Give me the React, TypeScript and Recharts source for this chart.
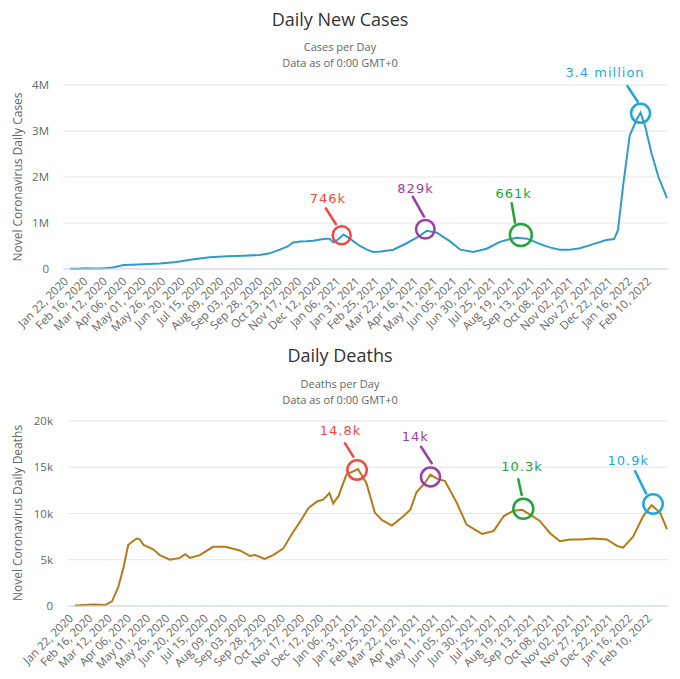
import React from 'react';
import { LineChart, Line, XAxis, YAxis, CartesianGrid, ReferenceDot, ReferenceLine } from 'recharts';

const tickLabels = [
  'Jan 22, 2020', 'Feb 16, 2020', 'Mar 12, 2020', 'Apr 06, 2020', 'May 01, 2020', 'May 26, 2020',
  'Jun 20, 2020', 'Jul 15, 2020', 'Aug 09, 2020', 'Sep 03, 2020', 'Sep 28, 2020', 'Oct 23, 2020',
  'Nov 17, 2020', 'Dec 12, 2020', 'Jan 06, 2021', 'Jan 31, 2021', 'Feb 25, 2021', 'Mar 22, 2021',
  'Apr 16, 2021', 'May 11, 2021', 'Jun 05, 2021', 'Jun 30, 2021', 'Jul 25, 2021', 'Aug 19, 2021',
  'Sep 13, 2021', 'Oct 08, 2021', 'Nov 02, 2021', 'Nov 27, 2021', 'Dec 22, 2021', 'Jan 16, 2022',
  'Feb 10, 2022',
];
const tickDays = tickLabels.map((_, i) => i * 25);
const lastDay = 768;

// day offset from Jan 22, 2020 ; daily new cases (thousands)
const caseDays = [0, 10, 20, 30, 40, 47, 55, 62, 69, 80, 94, 116, 137, 159, 180, 202, 223, 244, 257, 270, 280, 287, 296, 304, 313, 322, 330, 334, 339, 345, 352, 360, 373, 382, 390, 400, 416, 433, 446, 459, 472, 489, 502, 519, 536, 553, 564, 575, 588, 605, 617, 630, 643, 656, 673, 690, 700, 705, 712, 720, 729, 734, 740, 748, 757, 768];
const caseValues = [5, 5, 15, 12, 10, 20, 35, 60, 85, 95, 105, 120, 150, 210, 255, 275, 290, 305, 340, 420, 490, 575, 600, 605, 615, 640, 660, 655, 575, 645, 750, 660, 500, 420, 370, 380, 420, 560, 680, 829, 790, 600, 420, 370, 440, 590, 640, 680, 660, 540, 470, 420, 420, 450, 540, 630, 650, 850, 1870, 2900, 3250, 3400, 3100, 2520, 2000, 1540];

// day offset from Jan 22, 2020 ; daily deaths (thousands)
const deathDays = [0, 24, 39, 48, 56, 63, 69, 75, 80, 84, 89, 102, 110, 123, 136, 143, 149, 162, 179, 195, 214, 227, 234, 246, 257, 270, 283, 292, 303, 314, 322, 330, 335, 342, 352, 367, 378, 389, 398, 411, 426, 435, 443, 454, 461, 469, 480, 495, 508, 528, 543, 556, 569, 580, 590, 603, 616, 629, 642, 655, 672, 690, 703, 711, 724, 737, 748, 759, 768];
const deathValues = [0.05, 0.15, 0.1, 0.5, 2.0, 4.2, 6.6, 7.0, 7.3, 7.2, 6.6, 6.1, 5.5, 5.0, 5.2, 5.6, 5.2, 5.5, 6.4, 6.4, 6.0, 5.4, 5.5, 5.1, 5.5, 6.2, 8.0, 9.1, 10.6, 11.3, 11.5, 12.2, 11.1, 11.9, 14.2, 14.8, 13.3, 10.1, 9.3, 8.7, 9.7, 10.4, 12.3, 13.3, 14.2, 13.8, 13.5, 11.2, 8.8, 7.8, 8.1, 9.7, 10.3, 10.4, 9.9, 9.2, 7.9, 7.0, 7.2, 7.2, 7.3, 7.2, 6.5, 6.3, 7.5, 9.7, 10.9, 10.1, 8.3];

const caseTicks = [0, 1000, 2000, 3000, 4000];
const deathTicks = [0, 5, 10, 15, 20];

const RED = '#ee4a42';
const PURPLE = '#9a3ea6';
const GREEN = '#22a43a';
const BLUE = '#1ea8df';

// annotations in data coordinates: [day, value]
const caseNotes = [
  { label: '746k', color: RED, text: [331.7, 1537], from: [329, 1320], to: [342.2, 972], circle: [349.5, 735], r: 9 },
  { label: '829k', color: PURPLE, text: [444.5, 1746], from: [440.9, 1572], to: [455.4, 1137], circle: [457.1, 865], r: 9.3 },
  { label: '661k', color: GREEN, text: [570.8, 1646], from: [568.2, 1428], to: [572.5, 1007], circle: [580, 739], r: 11 },
  { label: '3.4 million', color: BLUE, text: [688.3, 4272], from: [717, 3978], to: [730.4, 3637], circle: [734, 3385], r: 9.5 },
];
const deathNotes = [
  { label: '14.8k', color: RED, text: [344.4, 19.03], from: [350.3, 17.59], to: [361.1, 16.14], circle: [365.9, 14.7], r: 9.7 },
  { label: '14k', color: PURPLE, text: [441.4, 18.3], from: [448.9, 17.22], to: [462.8, 15.43], circle: [461.2, 13.95], r: 9.5 },
  { label: '10.3k', color: GREEN, text: [579.9, 15.1], from: [575.1, 13.7], to: [579.5, 12.0], circle: [581.6, 10.51], r: 10 },
  { label: '10.9k', color: BLUE, text: [717.8, 15.75], from: [726.5, 14.59], to: [740.8, 12.18], circle: [749.9, 11.03], r: 9.7 },
];

const caseData = caseDays.map((d, i) => ({ day: d, cases: caseValues[i] }));
const deathData = deathDays.map((d, i) => ({ day: d, deaths: deathValues[i] }));

const FONT = '"Open Sans", "DejaVu Sans", sans-serif';
const HAND = '"DejaVu Sans", sans-serif';

const DateTick = (props: any) => {
  const { x, y, payload } = props;
  const idx = tickDays.indexOf(payload.value);
  const label = idx >= 0 ? tickLabels[idx] : '';
  const ax = x - 1;
  const ay = y + 5;
  return (
    <text x={ax} y={ay} transform={`rotate(-45, ${ax}, ${ay})`} textAnchor="end" fontSize={11.5} fill="#666" fontFamily={FONT}>
      {label}
    </text>
  );
};

const renderNotes = (notes: any[]) =>
  notes.flatMap((n, i) => [
    <ReferenceLine
      key={`l${i}`}
      segment={[{ x: n.from[0], y: n.from[1] }, { x: n.to[0], y: n.to[1] }]}
      stroke={n.color}
      strokeWidth={2.5}
      strokeLinecap="round"
      ifOverflow="visible"
    />,
    <ReferenceDot
      key={`c${i}`}
      x={n.circle[0]}
      y={n.circle[1]}
      r={n.r}
      fill="none"
      stroke={n.color}
      strokeWidth={2.5}
      ifOverflow="visible"
    />,
    <ReferenceDot
      key={`t${i}`}
      x={n.text[0]}
      y={n.text[1]}
      r={0}
      fill="none"
      stroke="none"
      ifOverflow="visible"
      label={{ value: n.label, position: 'center', fill: n.color, fontSize: 13, fontFamily: HAND, letterSpacing: 1 }}
    />,
  ]);

export default function App() {
  return (
    <div style={{ position: 'absolute', left: 0, top: 0, width: 680, height: 679, background: '#fff', overflow: 'hidden' }}>
      <div style={{ position: 'absolute', left: 0, top: 0 }}>
        <LineChart width={680} height={340} data={caseData} margin={{ top: 85, right: 12, bottom: 0, left: 0 }}>
          <CartesianGrid vertical={false} stroke="#e6e6e6" />
          <XAxis
            dataKey="day"
            type="number"
            domain={[0, lastDay]}
            ticks={tickDays}
            interval={0}
            padding={{ left: 7, right: 1 }}
            height={71}
            tickLine={false}
            axisLine={{ stroke: '#ccd6eb' }}
            tick={(p: any) => <DateTick {...p} />}
          />
          <YAxis
            type="number"
            domain={[0, 4000]}
            ticks={caseTicks}
            width={63}
            tickLine={false}
            axisLine={false}
            tickMargin={8}
            tick={{ fontSize: 11.5, fill: '#666', fontFamily: FONT }}
            tickFormatter={(v: number) => (v === 0 ? '0' : `${v / 1000}M`)}
          />
          <Line type="linear" dataKey="cases" stroke="#2f9cc8" strokeWidth={2} dot={false} isAnimationActive={false} />
          {renderNotes(caseNotes)}
        </LineChart>
      </div>
      <div style={{ position: 'absolute', left: 0, top: 340 }}>
        <LineChart width={680} height={339} data={deathData} margin={{ top: 81, right: 12, bottom: 0, left: 0 }}>
          <CartesianGrid vertical={false} stroke="#e6e6e6" />
          <XAxis
            dataKey="day"
            type="number"
            domain={[0, lastDay]}
            ticks={tickDays}
            interval={0}
            padding={{ left: 7, right: 1 }}
            height={73}
            tickLine={false}
            axisLine={{ stroke: '#ccd6eb' }}
            tick={(p: any) => <DateTick {...p} />}
          />
          <YAxis
            type="number"
            domain={[0, 20]}
            ticks={deathTicks}
            width={68}
            tickLine={false}
            axisLine={false}
            tickMargin={9}
            tick={{ fontSize: 11.5, fill: '#666', fontFamily: FONT }}
            tickFormatter={(v: number) => (v === 0 ? '0' : `${v}k`)}
          />
          <Line type="linear" dataKey="deaths" stroke="#b37b16" strokeWidth={2} dot={false} isAnimationActive={false} />
          {renderNotes(deathNotes)}
        </LineChart>
      </div>
      <svg width={680} height={679} style={{ position: 'absolute', left: 0, top: 0, pointerEvents: 'none' }}>
        <text x={340} y={26} textAnchor="middle" fontSize={18} fill="#333" fontFamily={FONT}>Daily New Cases</text>
        <text x={340} y={51} textAnchor="middle" fontSize={11} fill="#666" fontFamily={FONT}>Cases per Day</text>
        <text x={340} y={66.5} textAnchor="middle" fontSize={11} fill="#666" fontFamily={FONT}>Data as of 0:00 GMT+0</text>
        <text x={22} y={177} transform="rotate(-90, 22, 177)" textAnchor="middle" fontSize={12} fill="#666" fontFamily={FONT}>Novel Coronavirus Daily Cases</text>
        <text x={340} y={362} textAnchor="middle" fontSize={18} fill="#333" fontFamily={FONT}>Daily Deaths</text>
        <text x={340} y={388} textAnchor="middle" fontSize={11} fill="#666" fontFamily={FONT}>Deaths per Day</text>
        <text x={340} y={403.5} textAnchor="middle" fontSize={11} fill="#666" fontFamily={FONT}>Data as of 0:00 GMT+0</text>
        <text x={22} y={513} transform="rotate(-90, 22, 513)" textAnchor="middle" fontSize={12} fill="#666" fontFamily={FONT}>Novel Coronavirus Daily Deaths</text>
      </svg>
    </div>
  );
}
